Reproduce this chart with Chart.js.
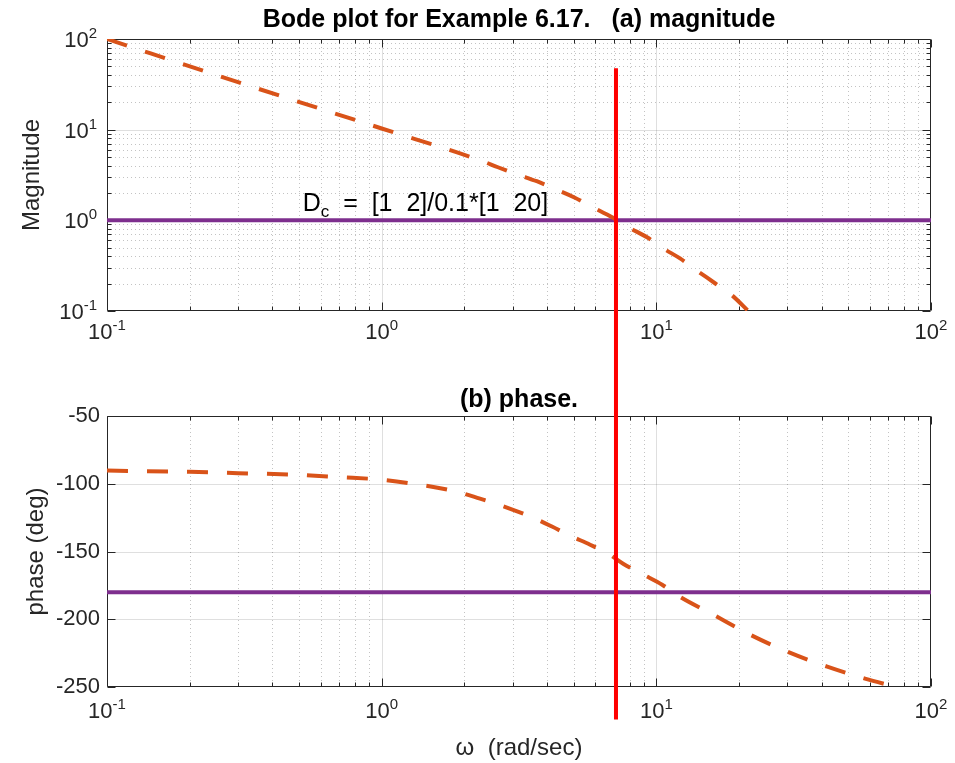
<!DOCTYPE html>
<html>
<head>
<meta charset="utf-8">
<script src="https://cdn.jsdelivr.net/npm/chart.js@4"></script>
<style>
  body { margin: 0; background: #fff; }
  .box { position: absolute; left: 0; width: 955px; }
</style>
</head>
<body>
<div class="box" style="top:0;height:370px"><canvas id="magchart" width="955" height="370"></canvas></div>
<div class="box" style="top:370px;height:393px"><canvas id="phasechart" width="955" height="393"></canvas></div>
<script>
// values
const wMag = [0.1, 0.3, 1, 2.28, 2.65, 3.11, 3.67, 4.31, 5.01, 5.88, 6.9, 7.9, 9.25, 10.6, 12.2, 14.2, 16.4, 18.9, 21.6];
const magnitude = [100, 33.4, 10.3, 4.6, 3.85, 3.22, 2.70, 2.20, 1.80, 1.39, 1.08, 0.84, 0.65, 0.49, 0.38, 0.273, 0.201, 0.148, 0.1];

const wPhase = [0.1, 0.2, 0.3, 0.5, 0.7, 1, 1.3, 1.85, 2.28, 2.54, 3.06, 3.56, 4.17, 4.85, 5.74, 6.67, 7.57, 8.95, 10.5, 12.0, 16.1, 21.9, 29.9, 41.9, 57.5, 74];
const phase = [-90.3, -91.2, -92.2, -93.4, -95.1, -97, -100, -105.6, -111, -114, -119.8, -125, -131.6, -138.3, -145, -151.6, -159, -167, -174.5, -182.6, -196.6, -211.3, -223.8, -235, -243.8, -249.8];

const wCross = 7.13;            // crossover frequency marker
const crossMag = [47.5, 0.0001];
const crossPhase = [100, -274];
const wRange = [0.1, 100];
const unityMag = [1, 1];
const phaseRef = [-180, -180];

const xTicks = [0.1, 1, 10, 100];
const magTicks = [0.1, 1, 10, 100];
const phaseTicks = [-250, -200, -150, -100, -50];
const minorSteps = [2, 3, 4, 5, 6, 7, 8, 9];
const decadeExp = {0.1: '-1', 1: '0', 10: '1', 100: '2'};

const ink = '#262626';
const fam = 'Liberation Sans, Arial, sans-serif';
const tickSize = 22;
const expSize = 15;

function minorsOf(decades) {
  const out = [];
  decades.slice(0, -1).forEach(d => minorSteps.forEach(m => out.push(+(d * m).toPrecision(3))));
  return out;
}

// draws "10" with a raised exponent; y is the baseline of "10"
function drawPow(ctx, v, x, y, align) {
  const exp = decadeExp[v];
  ctx.font = tickSize + 'px ' + fam;
  const wb = ctx.measureText('10').width;
  ctx.font = expSize + 'px ' + fam;
  const we = ctx.measureText(exp).width;
  const x0 = align === 'center' ? x - (wb + we) / 2 : x - (wb + we);
  ctx.font = tickSize + 'px ' + fam;
  ctx.fillText('10', x0, y);
  ctx.font = expSize + 'px ' + fam;
  ctx.fillText(exp, x0 + wb, y - 9);
}

// MATLAB style grid, box, inward ticks, titles and labels
const matlabAxes = {
  id: 'matlabAxes',
  beforeDatasetsDraw(chart, args, opts) {
    const {ctx, chartArea: a} = chart;
    const xs = chart.scales.x, ys = chart.scales.y;
    const px = v => Math.round(xs.getPixelForValue(v)) + 0.5;
    const py = v => Math.round(ys.getPixelForValue(v)) + 0.5;
    const xMinor = minorsOf(xTicks);
    const yMinor = opts.logY ? minorsOf(magTicks) : [];
    ctx.save();
    ctx.lineWidth = 1;
    // minor grid, dotted
    ctx.strokeStyle = 'rgba(38,38,38,0.28)';
    ctx.setLineDash([1, 3]);
    ctx.beginPath();
    xMinor.forEach(v => { ctx.moveTo(px(v), a.top); ctx.lineTo(px(v), a.bottom); });
    yMinor.forEach(v => { ctx.moveTo(a.left, py(v)); ctx.lineTo(a.right, py(v)); });
    ctx.stroke();
    // major grid, solid
    ctx.setLineDash([]);
    ctx.strokeStyle = 'rgba(38,38,38,0.15)';
    ctx.beginPath();
    xTicks.slice(1, -1).forEach(v => { ctx.moveTo(px(v), a.top); ctx.lineTo(px(v), a.bottom); });
    opts.yTicks.slice(1, -1).forEach(v => { ctx.moveTo(a.left, py(v)); ctx.lineTo(a.right, py(v)); });
    ctx.stroke();
    // box and ticks
    ctx.strokeStyle = ink;
    ctx.beginPath();
    const L = Math.round(a.left) + 0.5, R = Math.round(a.right) - 0.5;
    const T = Math.round(a.top) + 0.5, B = Math.round(a.bottom) - 0.5;
    ctx.rect(L, T, R - L, B - T);
    const xt = (v, len) => { const p = px(v); ctx.moveTo(p, B); ctx.lineTo(p, B - len); ctx.moveTo(p, T); ctx.lineTo(p, T + len); };
    const yt = (v, len) => { const p = py(v); ctx.moveTo(L, p); ctx.lineTo(L + len, p); ctx.moveTo(R, p); ctx.lineTo(R - len, p); };
    xTicks.forEach(v => xt(v, 8));
    xMinor.forEach(v => xt(v, 4));
    opts.yTicks.forEach(v => yt(v, 8));
    yMinor.forEach(v => yt(v, 4));
    ctx.stroke();

    // decade tick labels
    ctx.fillStyle = ink;
    ctx.textBaseline = 'alphabetic';
    xTicks.forEach(v => drawPow(ctx, v, xs.getPixelForValue(v), a.bottom + opts.xLabelDrop, 'center'));
    if (opts.logY) {
      magTicks.forEach(v => drawPow(ctx, v, a.left - 10, ys.getPixelForValue(v) + 8, 'right'));
    }

    // axes title, centred over the plot area
    ctx.fillStyle = '#000';
    ctx.textAlign = 'center';
    ctx.textBaseline = 'middle';
    ctx.font = 'bold 25px ' + fam;
    ctx.fillText(opts.title, (a.left + a.right) / 2, opts.titleY);
    ctx.restore();
  },
  afterDatasetsDraw(chart, args, opts) {
    if (!opts.note) return;
    const {ctx} = chart;
    const x = chart.scales.x.getPixelForValue(opts.note.x);
    const y = chart.scales.y.getPixelForValue(opts.note.y);
    ctx.save();
    ctx.fillStyle = '#000';
    ctx.textBaseline = 'alphabetic';
    ctx.textAlign = 'left';
    ctx.font = '25px ' + fam;
    ctx.fillText('D', x, y);
    let w = ctx.measureText('D').width;
    ctx.font = '17px ' + fam;
    ctx.fillText('c', x + w, y + 6);
    w += ctx.measureText('c').width;
    ctx.font = '25px ' + fam;
    ctx.fillText(opts.note.text, x + w, y);
    ctx.restore();
  }
};

function fixPadding(s) {
  s.paddingLeft = 0; s.paddingRight = 0; s.paddingTop = 0; s.paddingBottom = 0;
}

function xScale(height, title) {
  return {
    type: 'logarithmic',
    min: wRange[0],
    max: wRange[1],
    grid: {display: false, drawTicks: false},
    border: {display: false},
    afterBuildTicks: s => { s.ticks = xTicks.map(v => ({value: v})); },
    afterFit: s => { s.height = height; fixPadding(s); },
    ticks: {display: false},
    title: title ? {display: true, text: title, color: ink,
      font: {family: fam, size: 24}, padding: {top: 0, bottom: 0}} : {display: false}
  };
}

const magChart = new Chart(document.getElementById('magchart'), {
  type: 'line',
  data: {
    datasets: [{
      data: crossMag.map(v => ({x: wCross, y: v})),
      borderColor: '#ff0000', borderWidth: 4, pointRadius: 0, clip: false
    }, {
      data: wMag.map((w, i) => ({x: w, y: magnitude[i]})),
      borderColor: '#d95319', borderWidth: 4, borderDash: [21, 19], pointRadius: 0,
      cubicInterpolationMode: 'monotone', clip: {left: 0, top: 0, right: 0, bottom: 0}
    }, {
      data: wRange.map((w, i) => ({x: w, y: unityMag[i]})),
      borderColor: '#7e2f8e', borderWidth: 4, pointRadius: 0, clip: {left: 0, top: 0, right: 0, bottom: 0}
    }]
  },
  options: {
    responsive: false,
    animation: false,
    layout: {padding: {left: 0, right: 24, top: 39, bottom: 0}},
    scales: {
      x: xScale(59),
      y: {
        type: 'logarithmic',
        min: 0.1,
        max: 100,
        grid: {display: false, drawTicks: false},
        border: {display: false},
        afterBuildTicks: s => { s.ticks = magTicks.map(v => ({value: v})); },
        afterFit: s => { s.width = 107; fixPadding(s); },
        ticks: {display: false},
        title: {display: true, text: 'Magnitude', color: ink,
          font: {family: fam, size: 24}, padding: {top: 18, bottom: 0}}
      }
    },
    plugins: {
      legend: {display: false},
      tooltip: {enabled: false},
      title: {display: false},
      matlabAxes: {
        logY: true, yTicks: magTicks, xLabelDrop: 28, titleY: 20,
        title: 'Bode plot for Example 6.17.   (a) magnitude',
        note: {x: 0.516, y: 1.28, text: '  =  [1  2]/0.1*[1  20]'}
      }
    }
  },
  plugins: [matlabAxes]
});

const phaseChart = new Chart(document.getElementById('phasechart'), {
  type: 'line',
  data: {
    datasets: [{
      data: crossPhase.map(v => ({x: wCross, y: v})),
      borderColor: '#ff0000', borderWidth: 4, pointRadius: 0, clip: false
    }, {
      data: wPhase.map((w, i) => ({x: w, y: phase[i]})),
      borderColor: '#d95319', borderWidth: 4, borderDash: [21, 19], pointRadius: 0,
      cubicInterpolationMode: 'monotone', clip: {left: 0, top: 0, right: 0, bottom: 0}
    }, {
      data: wRange.map((w, i) => ({x: w, y: phaseRef[i]})),
      borderColor: '#7e2f8e', borderWidth: 4, pointRadius: 0, clip: {left: 0, top: 0, right: 0, bottom: 0}
    }]
  },
  options: {
    responsive: false,
    animation: false,
    layout: {padding: {left: 0, right: 24, top: 46, bottom: 0}},
    scales: {
      x: xScale(76, '\u03C9  (rad/sec)'),
      y: {
        type: 'linear',
        min: -250,
        max: -50,
        grid: {display: false, drawTicks: false},
        border: {display: false},
        afterBuildTicks: s => { s.ticks = phaseTicks.map(v => ({value: v})); },
        afterFit: s => { s.width = 107; fixPadding(s); },
        ticks: {color: ink, font: {family: fam, size: tickSize}, padding: 7, autoSkip: false},
        title: {display: true, text: 'phase (deg)', color: ink,
          font: {family: fam, size: 24}, padding: {top: 22, bottom: 0}}
      }
    },
    plugins: {
      legend: {display: false},
      tooltip: {enabled: false},
      title: {display: false},
      matlabAxes: {logY: false, yTicks: phaseTicks, xLabelDrop: 31, titleY: 30, title: '(b) phase.'}
    }
  },
  plugins: [matlabAxes]
});
</script>
</body>
</html>
